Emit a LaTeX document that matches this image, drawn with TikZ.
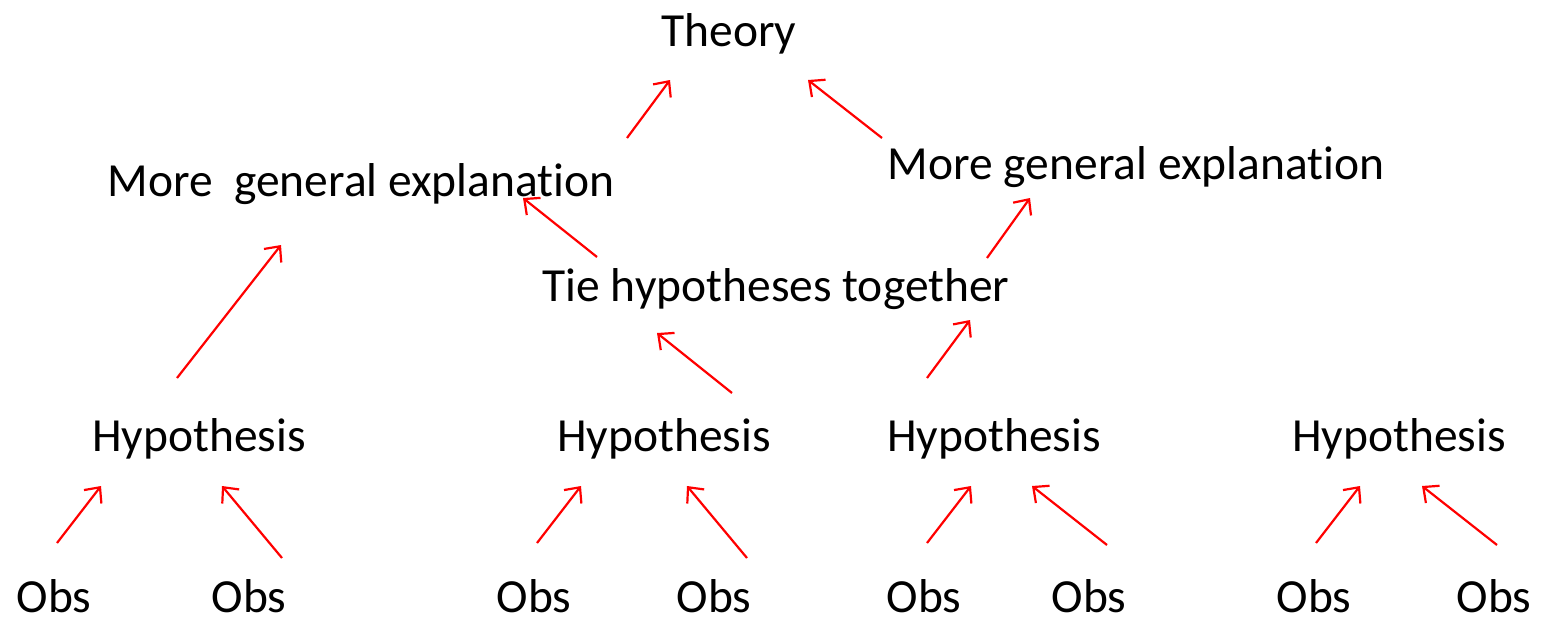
\documentclass[tikz,border=0pt]{standalone}
\usepackage{fontspec}
\setmainfont[Ligatures={NoCommon}]{Carlito}
\usetikzlibrary{arrows.meta}
\newcommand{\expl}{explanat\kern0pt ion}
\begin{document}
\begin{tikzpicture}[x=1pt,y=-1pt,
  lbl/.style={anchor=base,inner sep=0pt,font=\fontsize{47.5}{56}\selectfont},
  link/.style={draw=red,line width=2.2pt,-{Straight Barb[length=12pt,width=22pt,line width=2.2pt]}}]
\useasboundingbox (0,0) rectangle (1542,619);
% texts
\node[lbl] (theory) at (729,46) {Theory};
\node[lbl] (mgeL) at (361,196) {More\ \ general \expl};
\node[lbl] (mgeR) at (1136,179) {More general \expl};
\node[lbl] (tie) at (776,301) {Tie hypotheses together};
\node[lbl] (h1) at (199,451) {Hypothesis};
\node[lbl] (h2) at (664,451) {Hypothesis};
\node[lbl] (h3) at (994,451) {Hypothesis};
\node[lbl] (h4) at (1399,451) {Hypothesis};
\node[lbl] (o1) at (54,612) {Obs};
\node[lbl] (o2) at (249,612) {Obs};
\node[lbl] (o3) at (534,612) {Obs};
\node[lbl] (o4) at (714,612) {Obs};
\node[lbl] (o5) at (924,612) {Obs};
\node[lbl] (o6) at (1089,612) {Obs};
\node[lbl] (o7) at (1314,612) {Obs};
\node[lbl] (o8) at (1494,612) {Obs};
% arrow end points
\coordinate (a1s) at (627,138); \coordinate (a1e) at (670,80);
\coordinate (a2s) at (882,138); \coordinate (a2e) at (808,80);
\coordinate (a3s) at (597,257); \coordinate (a3e) at (523,198);
\coordinate (a4s) at (987,258); \coordinate (a4e) at (1030,198);
\coordinate (a5s) at (177,378); \coordinate (a5e) at (281,245);
\coordinate (a6s) at (732,393); \coordinate (a6e) at (657,333);
\coordinate (a7s) at (927,378); \coordinate (a7e) at (970,320);
\coordinate (b1s) at (57,543);  \coordinate (b1e) at (101,486);
\coordinate (b2s) at (282,558); \coordinate (b2e) at (222,486);
\coordinate (b3s) at (537,543); \coordinate (b3e) at (581,486);
\coordinate (b4s) at (747,558); \coordinate (b4e) at (687,486);
\coordinate (b5s) at (927,543); \coordinate (b5e) at (971,486);
\coordinate (b6s) at (1107,545); \coordinate (b6e) at (1032,486);
\coordinate (b7s) at (1316,543); \coordinate (b7e) at (1360,486);
\coordinate (b8s) at (1497,545); \coordinate (b8e) at (1422,486);
\foreach \a in {a1,a2,a3,a4,a5,a6,a7,b1,b2,b3,b4,b5,b6,b7,b8}
  \draw[link] (\a s) -- (\a e);
\end{tikzpicture}
\end{document}
